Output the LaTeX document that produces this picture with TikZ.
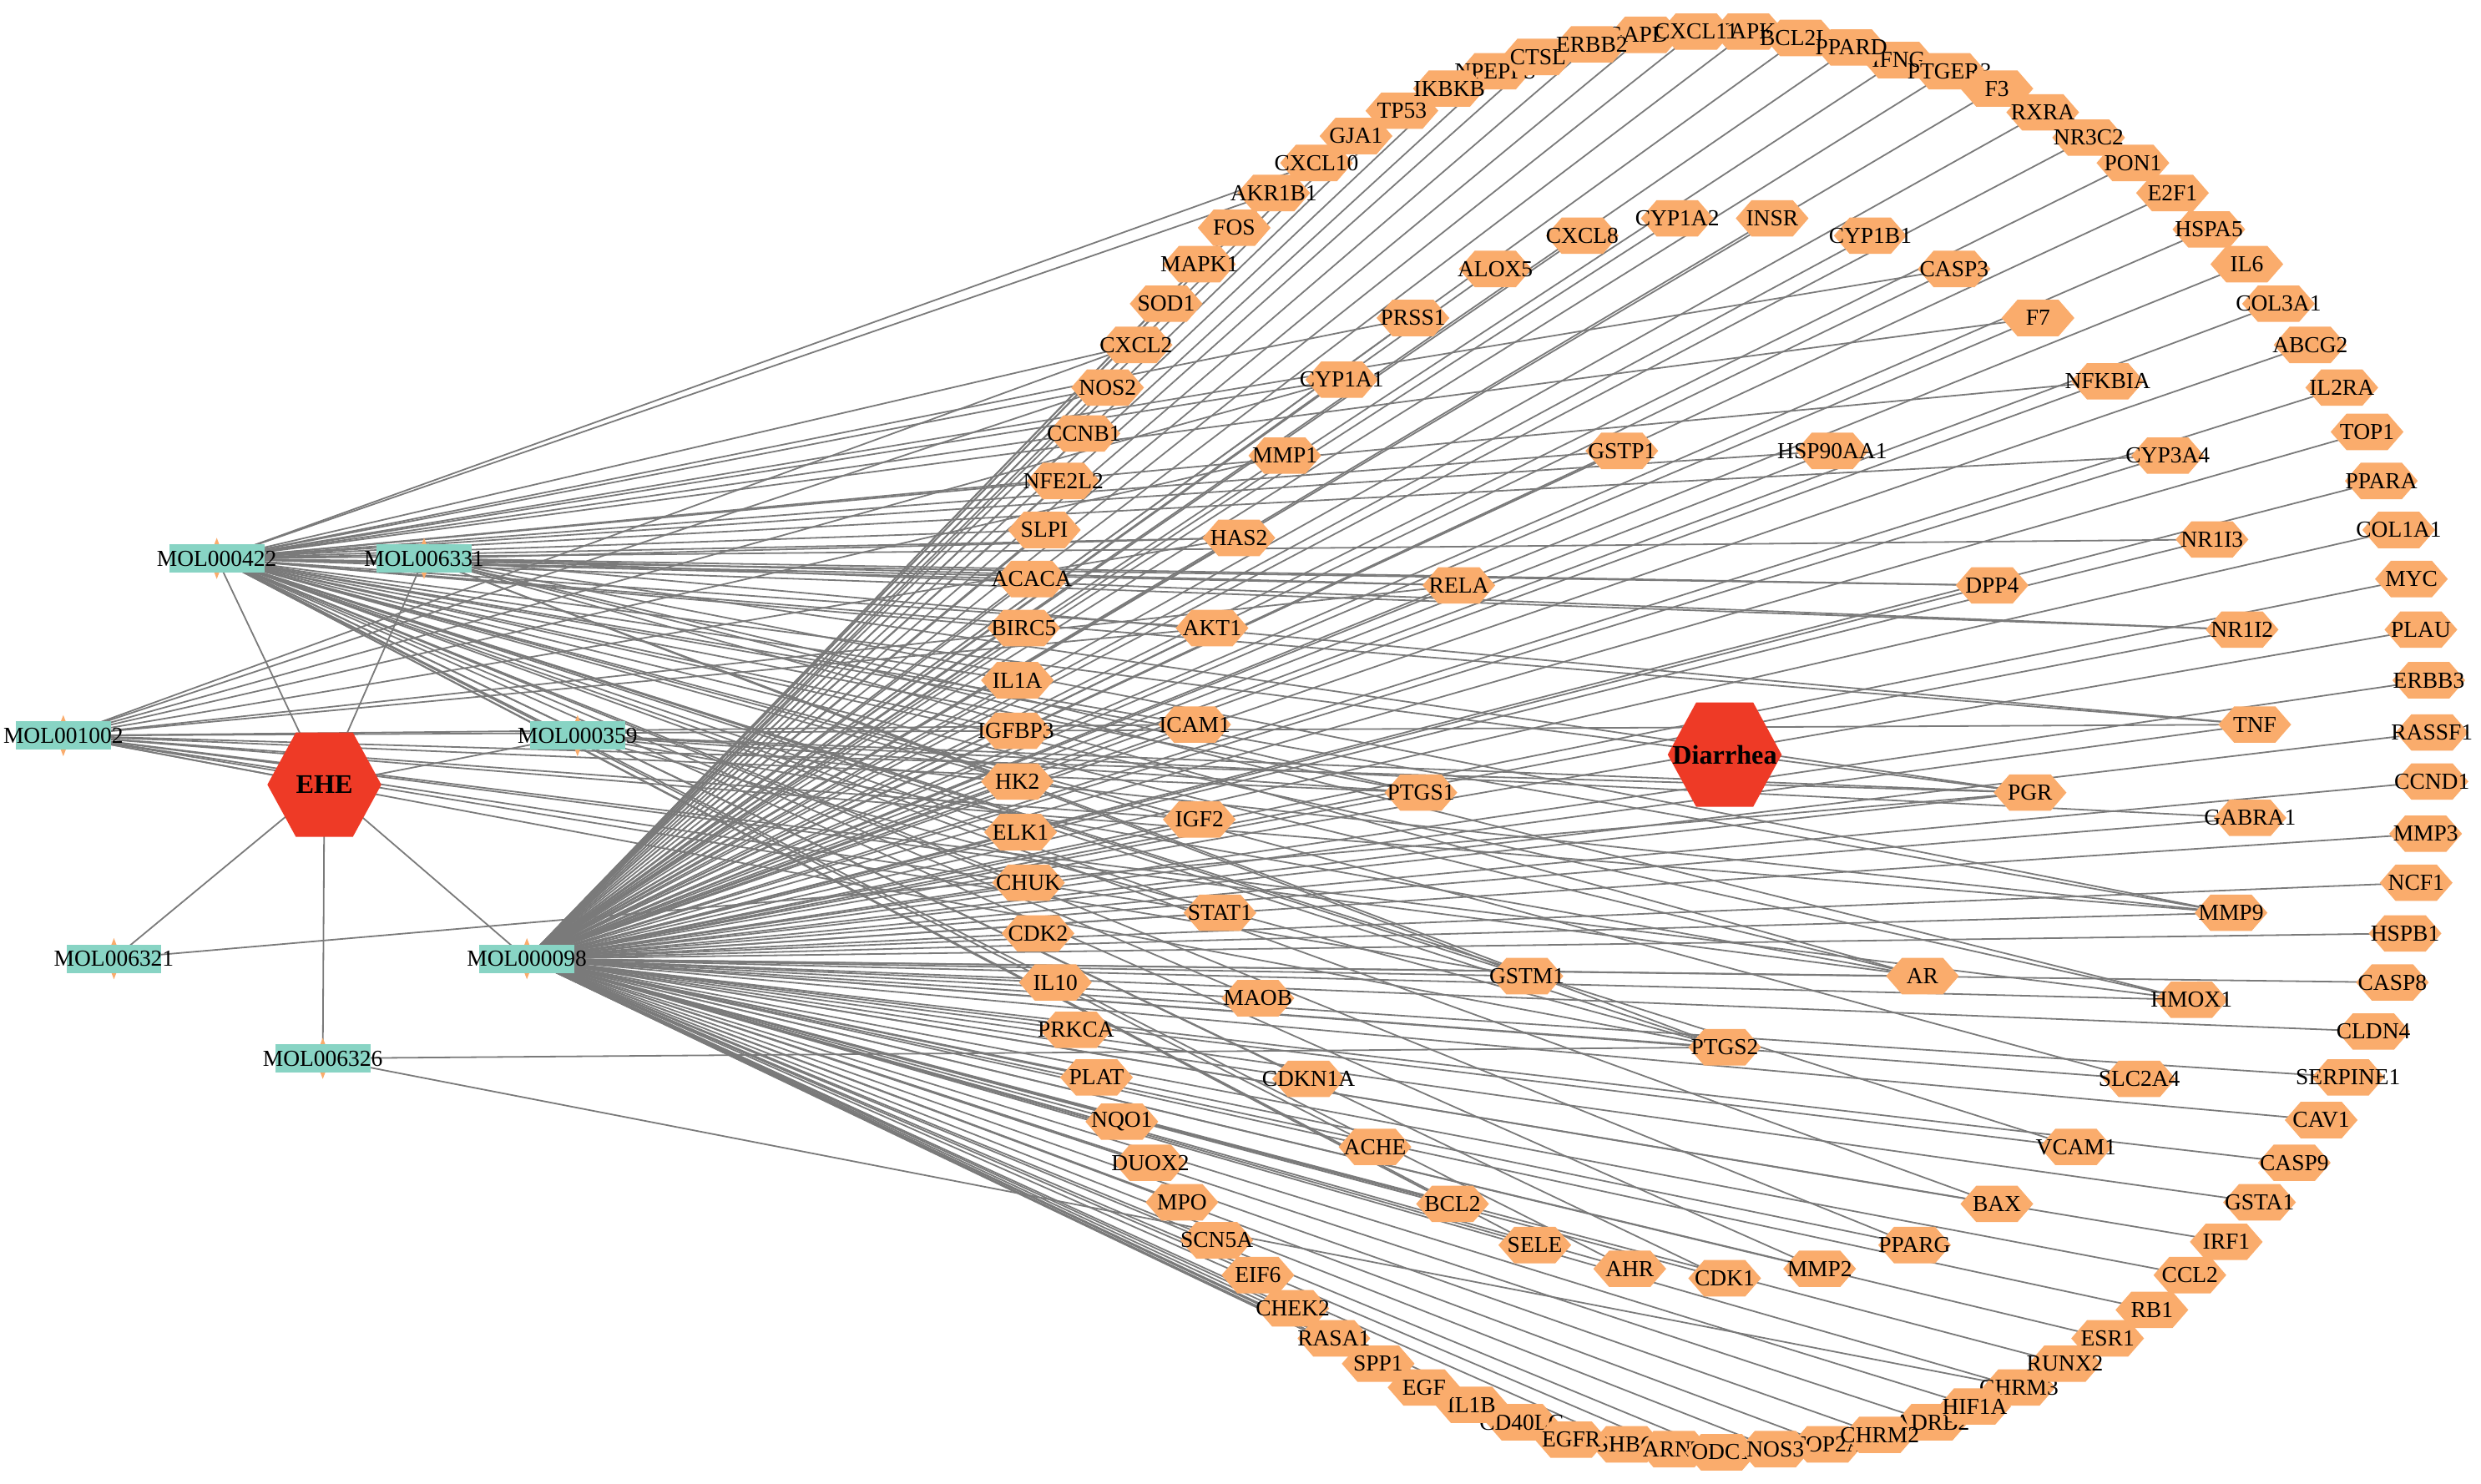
\documentclass[tikz,border=0pt]{standalone}
\usepackage{fontspec}
\setmainfont{Liberation Serif}
\pgfdeclarelayer{background}
\pgfsetlayers{background,main}
\definecolor{hexorange}{RGB}{250,172,108}
\definecolor{hexred}{RGB}{238,58,38}
\definecolor{molteal}{RGB}{136,212,196}
\definecolor{lnkgray}{RGB}{122,122,122}
\tikzset{
  hexo/.style={rectangle, minimum width=46pt, minimum height=23pt, inner sep=0pt,
    font=\fontsize{14.5}{15}\selectfont,
    path picture={\fill[hexorange] (path picture bounding box.west)
      -- ([xshift=10pt]path picture bounding box.north west)
      -- ([xshift=-10pt]path picture bounding box.north east)
      -- (path picture bounding box.east)
      -- ([xshift=-10pt]path picture bounding box.south east)
      -- ([xshift=10pt]path picture bounding box.south west) -- cycle;}},
  bighex/.style={rectangle, minimum width=72pt, minimum height=66pt, inner sep=0pt,
    font=\bfseries\fontsize{17}{18}\selectfont,
    path picture={\fill[hexred] (path picture bounding box.west)
      -- ([xshift=18pt]path picture bounding box.north west)
      -- ([xshift=-18pt]path picture bounding box.north east)
      -- (path picture bounding box.east)
      -- ([xshift=-18pt]path picture bounding box.south east)
      -- ([xshift=18pt]path picture bounding box.south west) -- cycle;}},
  molbox/.style={rectangle, fill=molteal, minimum width=60pt, minimum height=18pt, inner sep=0pt,
    font=\fontsize{14.5}{15}\selectfont},
  lnk/.style={draw=lnkgray, line width=0.95pt},
}
\newcommand\hexnode[4]{\node[hexo] (#1) at (#2,#3) {\makebox[0pt]{#4}};}
\newcommand\molnode[3]{\fill[hexorange] (#2,#3-13) -- (#2+5,#3) -- (#2,#3+13) -- (#2-5,#3) -- cycle;
  \node[molbox] (#1) at (#2,#3) {\makebox[0pt]{#1}};}
\begin{document}
\begin{tikzpicture}[x=1pt,y=-1pt]
\useasboundingbox (0,0) rectangle (1568,938);
% ---------- outer ring (partially covered ones first) ----------
\hexnode{GAPDH}{1040}{22}{GAPDH}
\hexnode{MAPK8}{1105}{20}{MAPK8}
\hexnode{IFNG}{1200}{38}{IFNG}
\hexnode{NPEPPS}{945}{45}{NPEPPS}
\hexnode{CD40LG}{962}{899}{CD40LG}
\hexnode{SHBG}{1028}{913}{SHBG}
\hexnode{ARNT}{1058}{916}{ARNT}
\hexnode{ODC1}{1088}{918}{ODC1}
\hexnode{TOP2A}{1155}{913}{TOP2A}
\hexnode{ADRB2}{1221}{899}{ADRB2}
\hexnode{CHRM3}{1276}{877}{CHRM3}
\hexnode{CXCL10}{832}{103}{CXCL10}
\hexnode{GJA1}{857}{86}{GJA1}
\hexnode{TP53}{886}{70}{TP53}
\hexnode{IKBKB}{916}{56}{IKBKB}
\hexnode{CTSL}{972}{36}{CTSL}
\hexnode{ERBB2}{1006}{28}{ERBB2}
\hexnode{CXCL11}{1072}{20}{CXCL11}
\hexnode{BCL2L1}{1138}{24}{BCL2L1}
\hexnode{PPARD}{1170}{30}{PPARD}
\hexnode{PTGER3}{1232}{45}{PTGER3}
\hexnode{F3}{1262}{56}{F3}
\hexnode{RXRA}{1291}{71}{RXRA}
\hexnode{NR3C2}{1320}{87}{NR3C2}
\hexnode{PON1}{1348}{103}{PON1}
\hexnode{E2F1}{1373}{122}{E2F1}
\hexnode{HSPA5}{1396}{145}{HSPA5}
\hexnode{IL6}{1420}{167}{IL6}
\hexnode{COL3A1}{1440}{192}{COL3A1}
\hexnode{ABCG2}{1460}{218}{ABCG2}
\hexnode{IL2RA}{1480}{245}{IL2RA}
\hexnode{TOP1}{1496}{273}{TOP1}
\hexnode{PPARA}{1505}{304}{PPARA}
\hexnode{COL1A1}{1516}{335}{COL1A1}
\hexnode{MYC}{1524}{366}{MYC}
\hexnode{PLAU}{1530}{398}{PLAU}
\hexnode{ERBB3}{1535}{430}{ERBB3}
\hexnode{RASSF1}{1537}{463}{RASSF1}
\hexnode{CCND1}{1537}{494}{CCND1}
\hexnode{MMP3}{1533}{527}{MMP3}
\hexnode{NCF1}{1527}{558}{NCF1}
\hexnode{HSPB1}{1520}{590}{HSPB1}
\hexnode{CASP8}{1512}{621}{CASP8}
\hexnode{CLDN4}{1500}{652}{CLDN4}
\hexnode{SERPINE1}{1484}{681}{SERPINE1}
\hexnode{CAV1}{1467}{708}{CAV1}
\hexnode{CASP9}{1450}{735}{CASP9}
\hexnode{GSTA1}{1428}{760}{GSTA1}
\hexnode{IRF1}{1407}{785}{IRF1}
\hexnode{CCL2}{1384}{806}{CCL2}
\hexnode{RB1}{1360}{828}{RB1}
\hexnode{ESR1}{1332}{846}{ESR1}
\hexnode{RUNX2}{1305}{862}{RUNX2}
\hexnode{HIF1A}{1248}{889}{HIF1A}
\hexnode{CHRM2}{1188}{907}{CHRM2}
\hexnode{NOS3}{1122}{916}{NOS3}
\hexnode{EGFR}{993}{910}{EGFR}
\hexnode{IL1B}{930}{888}{IL1B}
\hexnode{EGF}{900}{877}{EGF}
\hexnode{SPP1}{871}{862}{SPP1}
\hexnode{RASA1}{843}{846}{RASA1}
\hexnode{CHEK2}{817}{827}{CHEK2}
\hexnode{EIF6}{795}{806}{EIF6}
\hexnode{SCN5A}{769}{784}{SCN5A}
\hexnode{MPO}{747}{760}{MPO}
\hexnode{DUOX2}{727}{735}{DUOX2}
\hexnode{NQO1}{709}{709}{NQO1}
\hexnode{PLAT}{693}{681}{PLAT}
\hexnode{PRKCA}{680}{651}{PRKCA}
\hexnode{IL10}{667}{621}{IL10}
\hexnode{CDK2}{656}{590}{CDK2}
\hexnode{CHUK}{650}{558}{CHUK}
\hexnode{ELK1}{645}{526}{ELK1}
\hexnode{HK2}{643}{494}{HK2}
\hexnode{IGFBP3}{642}{462}{IGFBP3}
\hexnode{IL1A}{643}{430}{IL1A}
\hexnode{BIRC5}{647}{397}{BIRC5}
\hexnode{ACACA}{652}{366}{ACACA}
\hexnode{SLPI}{660}{335}{SLPI}
\hexnode{NFE2L2}{672}{304}{NFE2L2}
\hexnode{CCNB1}{685}{274}{CCNB1}
\hexnode{NOS2}{700}{245}{NOS2}
\hexnode{CXCL2}{718}{218}{CXCL2}
\hexnode{SOD1}{737}{192}{SOD1}
\hexnode{MAPK1}{758}{167}{MAPK1}
\hexnode{FOS}{780}{144}{FOS}
\hexnode{AKR1B1}{805}{122}{AKR1B1}
% ---------- inner nodes ----------
\hexnode{CYP1A2}{1060}{138}{CYP1A2}
\hexnode{INSR}{1120}{138}{INSR}
\hexnode{CYP1B1}{1182}{149}{CYP1B1}
\hexnode{CXCL8}{1000}{149}{CXCL8}
\hexnode{ALOX5}{945}{170}{ALOX5}
\hexnode{CASP3}{1235}{170}{CASP3}
\hexnode{PRSS1}{893}{201}{PRSS1}
\hexnode{F7}{1288}{201}{F7}
\hexnode{CYP1A1}{848}{240}{CYP1A1}
\hexnode{NFKBIA}{1332}{241}{NFKBIA}
\hexnode{MMP1}{812}{288}{MMP1}
\hexnode{GSTP1}{1025}{285}{GSTP1}
\hexnode{HSP90AA1}{1158}{285}{HSP90AA1}
\hexnode{CYP3A4}{1370}{288}{CYP3A4}
\hexnode{HAS2}{783}{340}{HAS2}
\hexnode{NR1I3}{1398}{341}{NR1I3}
\hexnode{RELA}{922}{370}{RELA}
\hexnode{DPP4}{1259}{370}{DPP4}
\hexnode{AKT1}{766}{397}{AKT1}
\hexnode{NR1I2}{1417}{398}{NR1I2}
\hexnode{ICAM1}{755}{458}{ICAM1}
\hexnode{TNF}{1425}{458}{TNF}
\hexnode{PTGS1}{898}{501}{PTGS1}
\hexnode{PGR}{1283}{501}{PGR}
\hexnode{GABRA1}{1422}{517}{GABRA1}
\hexnode{IGF2}{758}{518}{IGF2}
\hexnode{STAT1}{771}{577}{STAT1}
\hexnode{MMP9}{1410}{577}{MMP9}
\hexnode{GSTM1}{965}{617}{GSTM1}
\hexnode{AR}{1215}{617}{AR}
\hexnode{MAOB}{795}{631}{MAOB}
\hexnode{HMOX1}{1385}{632}{HMOX1}
\hexnode{PTGS2}{1090}{662}{PTGS2}
\hexnode{SLC2A4}{1352}{682}{SLC2A4}
\hexnode{CDKN1A}{827}{682}{CDKN1A}
\hexnode{VCAM1}{1312}{725}{VCAM1}
\hexnode{ACHE}{869}{725}{ACHE}
\hexnode{BAX}{1262}{761}{BAX}
\hexnode{BCL2}{918}{761}{BCL2}
\hexnode{PPARG}{1210}{787}{PPARG}
\hexnode{SELE}{970}{787}{SELE}
\hexnode{AHR}{1030}{802}{AHR}
\hexnode{CDK1}{1090}{808}{CDK1}
\hexnode{MMP2}{1150}{802}{MMP2}
% ---------- hubs ----------
\node[bighex] (EHE) at (205,496) {EHE};
\node[bighex] (Diarrhea) at (1090,477) {Diarrhea};
\molnode{MOL000422}{137}{353}
\molnode{MOL006331}{268}{353}
\molnode{MOL001002}{40}{465}
\molnode{MOL000359}{365}{465}
\molnode{MOL006321}{72}{606}
\molnode{MOL000098}{333}{606}
\molnode{MOL006326}{204}{669}
% ---------- edges ----------
\begin{pgfonlayer}{background}
\fill[white] (0,0) rectangle (1568,938);
\foreach \m in {MOL000422,MOL006331,MOL001002,MOL000359,MOL006321,MOL000098,MOL006326}
  \draw[lnk] (EHE.center) -- (\m.center);
\foreach \t in {CXCL10,GJA1,TP53,IKBKB,NPEPPS,CTSL,ERBB2,GAPDH,CXCL11,MAPK8,BCL2L1,PPARD,IFNG,PTGER3,F3,RXRA,NR3C2,PON1,E2F1,HSPA5,IL6,COL3A1,ABCG2,IL2RA,TOP1,PPARA,COL1A1,MYC,PLAU,ERBB3,RASSF1,CCND1,MMP3,NCF1,HSPB1,CASP8,CLDN4,SERPINE1,CAV1,CASP9,GSTA1,IRF1,CCL2,RB1,ESR1,RUNX2,CHRM3,HIF1A,ADRB2,CHRM2,TOP2A,NOS3,ODC1,ARNT,SHBG,EGFR,CD40LG,IL1B,EGF,SPP1,RASA1,CHEK2,EIF6,SCN5A,MPO,DUOX2,NQO1,PLAT,PRKCA,IL10,CDK2,CHUK,ELK1,HK2,IGFBP3,IL1A,BIRC5,ACACA,SLPI,NFE2L2,CCNB1,NOS2,CXCL2,SOD1,MAPK1,FOS,AKR1B1,CYP1A2,INSR,CYP1B1,CXCL8,ALOX5,CASP3,PRSS1,F7,CYP1A1,NFKBIA,MMP1,GSTP1,HSP90AA1,CYP3A4,HAS2,NR1I3,RELA,DPP4,AKT1,NR1I2,ICAM1,TNF,PTGS1,PGR,GABRA1,IGF2,STAT1,MMP9,GSTM1,AR,MAOB,HMOX1,PTGS2,SLC2A4,CDKN1A,VCAM1,ACHE,BAX,BCL2,PPARG,SELE,AHR,CDK1,MMP2}
  \draw[lnk] (MOL000098.center) -- (\t.center);
\foreach \t in {CXCL10,AKR1B1,CXCL2,NOS2,PRSS1,F7,CASP3,CYP1A1,CCNB1,NFE2L2,NFKBIA,GSTP1,HSP90AA1,CYP3A4,SLPI,HAS2,NR1I3,ACACA,RELA,DPP4,BIRC5,AKT1,NR1I2,IL1A,ICAM1,TNF,IGFBP3,HK2,PTGS1,PGR,ELK1,IGF2,CHUK,STAT1,MMP9,GSTM1,AR,MAOB,HMOX1,PTGS2,SLC2A4,CDKN1A,VCAM1,ACHE,BAX,BCL2,PPARG,SELE,AHR,CDK1,MMP2}
  \draw[lnk] (MOL000422.center) -- (\t.center);
\foreach \t in {CXCL2,NOS2,CYP1A1,MMP1,HAS2,RELA,AKT1,ICAM1,PTGS1,PGR,TNF,IGF2,STAT1,GSTM1,AR,MMP9,PTGS2,HMOX1}
  \draw[lnk] (MOL001002.center) -- (\t.center);
\foreach \t in {HAS2,RELA,DPP4,NR1I2,TNF,PTGS1,PGR,AR,GSTM1,PTGS2,MMP9,HMOX1}
  \draw[lnk] (MOL006331.center) -- (\t.center);
\foreach \t in {PGR,PTGS1,AR,PTGS2,GABRA1,MMP9}
  \draw[lnk] (MOL000359.center) -- (\t.center);
\draw[lnk] (MOL006321.center) -- (PGR.center);
\draw[lnk] (MOL006326.center) -- (PTGS2.center);
\draw[lnk] (MOL006326.center) -- (CHRM3.center);
\end{pgfonlayer}
\end{tikzpicture}
\end{document}
